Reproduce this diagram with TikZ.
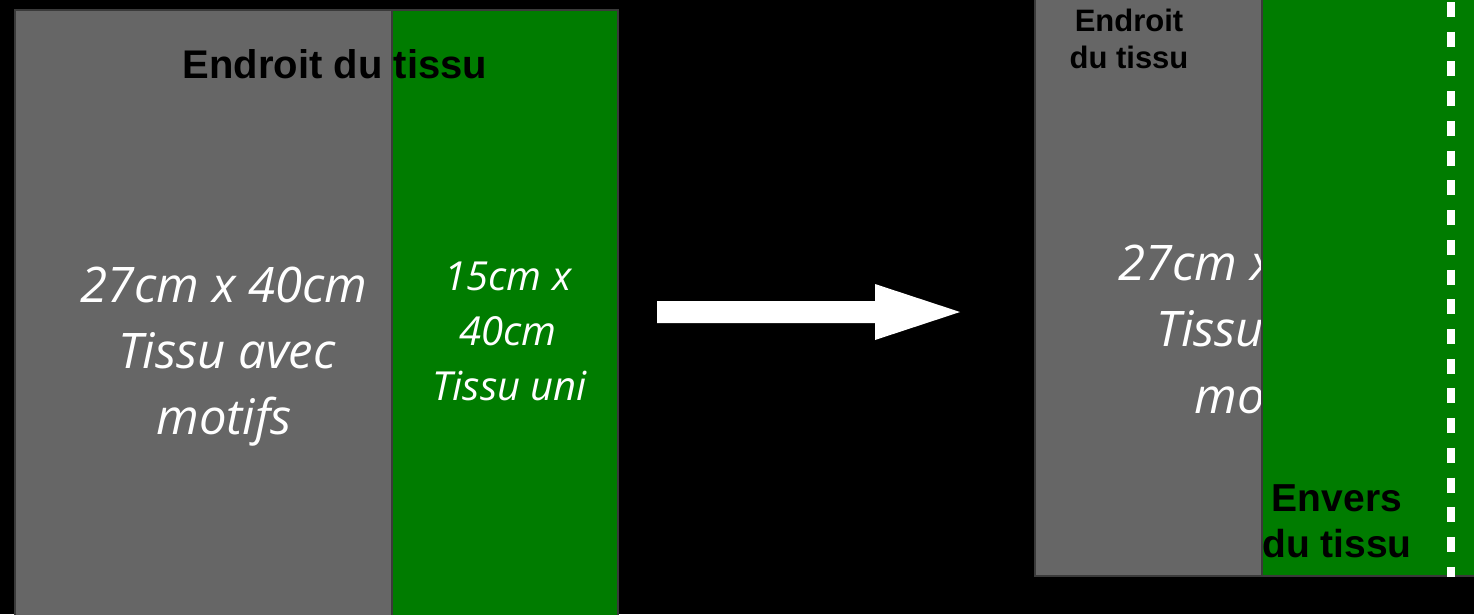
\documentclass[tikz,border=0pt]{standalone}
\usepackage{fontspec}
\setmainfont{Liberation Sans}
\newfontfamily\handfont{Open Sans}
\definecolor{fabgray}{HTML}{666666}
\definecolor{fabgreen}{HTML}{007C00}
\definecolor{edgegray}{HTML}{3A3A3A}
\begin{document}
\begin{tikzpicture}[x=1pt,y=-1pt,
  panel/.style={draw=edgegray,line width=1.2pt},
  hand/.style={text=white,inner sep=0pt,anchor=base,font=\handfont\itshape\fontsize{49}{55}\selectfont},
  handsmall/.style={text=white,inner sep=0pt,anchor=base,font=\handfont\itshape\fontsize{40}{46}\selectfont},
  boldlbl/.style={text=black,inner sep=0pt,anchor=base,font=\bfseries\fontsize{#1}{#1}\selectfont}]
\useasboundingbox[fill=black] (0,0) rectangle (1474,614);
% left panels
\path[panel,fill=fabgray] (15,10) rectangle (392,620);
\path[panel,fill=fabgreen] (392,10) rectangle (618,620);
\node[boldlbl=40] (endl) at (335,78) {Endroit du tissu};
\node[hand] (l1) at (224,302) {27cm x 40cm};
\node[hand] (l2) at (227,368) {Tissu avec};
\node[hand] (l3) at (224,434) {motifs};
\node[handsmall] (g1) at (508,290) {15cm x};
\node[handsmall] (g2) at (508,345) {40cm};
\node[handsmall] (g3) at (510,400) {Tissu uni};
% arrow
\fill[white] (657,301) -- (875,301) -- (875,284) -- (960,312) -- (875,340) -- (875,323) -- (657,323) -- cycle;
% right panels
\path[panel,fill=fabgray] (1035,-5) rectangle (1262,576);
\node[hand] (r1) at (1262,280) {27cm x 40cm};
\node[hand] (r2) at (1265,346) {Tissu avec};
\node[hand] (r3) at (1262,413) {motifs};
\path[panel,fill=fabgreen] (1262,-5) rectangle (1480,576);
\node[boldlbl=31] (endr1) at (1129,31) {Endroit};
\node[boldlbl=31] (endr2) at (1129,68) {du tissu};
\node[boldlbl=39] (env1) at (1337,511) {Envers};
\node[boldlbl=39] (env2) at (1337,557) {du tissu};
\draw[white,line width=7.5pt,dash pattern=on 15pt off 14.73pt] (1451,2) -- (1451,577);
\end{tikzpicture}
\end{document}
